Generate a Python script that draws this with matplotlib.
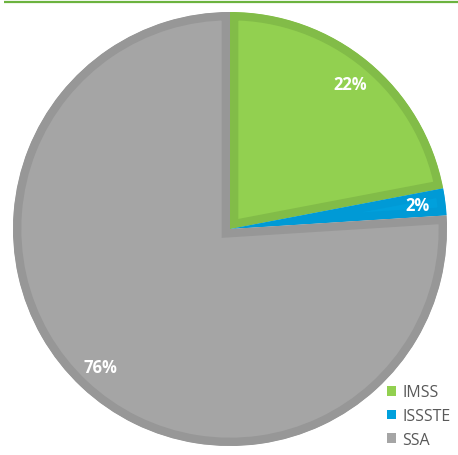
import matplotlib
matplotlib.use("Agg")
import matplotlib.pyplot as plt
from matplotlib.patches import Patch

# data
labels = ["IMSS", "ISSSTE", "SSA"]
shares = [22, 2, 76]
fill_colors = ["#92d050", "#00a0dc", "#a5a5a5"]
edge_colors = ["#82bc48", "#009ad6", "#979797"]

W, H = 458, 456
fig = plt.figure(figsize=(W / 100, H / 100), dpi=100)
ax = fig.add_axes([0, 0, 1, 1])

# thin green rule across the top
ax.plot([4, 458], [H - 2.5, H - 2.5], color="#6cb33f", lw=1.6, solid_capstyle="butt")

wedges, texts, autotexts = ax.pie(
    shares, center=(230, H - 230), radius=217, startangle=90,
    counterclock=False, colors=fill_colors,
    autopct=lambda p: "%d%%" % round(p), pctdistance=0.87,
    wedgeprops=dict(linewidth=12),
    textprops=dict(color="white", fontsize=12, fontweight="bold", family="Open Sans"),
)
ax.set_xlim(0, W)
ax.set_ylim(0, H)
ax.set_aspect("equal")
ax.axis("off")

# darker border drawn only inside each slice (pie turns clipping off, so switch it back on)
for w, ec in zip(wedges, edge_colors):
    w.set_edgecolor(ec)
    w.set_clip_on(True)
    w.set_clip_path(w)

handles = [Patch(facecolor=c, edgecolor="none") for c in fill_colors]
ax.legend(handles, labels, loc="center left", bbox_to_anchor=(387 / W, 39 / H),
          frameon=False, borderpad=0, borderaxespad=0,
          handlelength=0.55, handleheight=0.55, handletextpad=0.4,
          labelspacing=0.47, prop=dict(family="Open Sans", size=11.5),
          labelcolor="#595959")

fig.savefig("out.png", dpi=100)
